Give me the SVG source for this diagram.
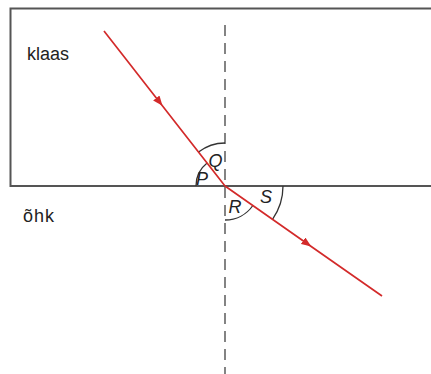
<svg xmlns="http://www.w3.org/2000/svg" width="431" height="374" viewBox="0 0 431 374">
<defs>
<style>
.frame{fill:none;stroke:#555;stroke-width:2}
.normal{fill:none;stroke:#333;stroke-width:1.2;stroke-dasharray:11 7}
.arc{fill:none;stroke:#333;stroke-width:1.3}
.ray{fill:none;stroke:#d32a2a;stroke-width:1.7}
.lbl{font-family:"Liberation Sans",Arial,sans-serif;font-size:18px;fill:#222}
.ang{font-family:"Liberation Sans",Arial,sans-serif;font-size:18px;font-style:italic;fill:#222}
</style>
<marker id="ah" viewBox="0 0 10 8" refX="6" refY="4" markerWidth="10" markerHeight="8" markerUnits="userSpaceOnUse" orient="auto">
<path d="M0,0 L10,4 L0,8 Z" fill="#d32a2a"/>
</marker>
</defs>
<rect width="431" height="374" fill="#fff"/>
<g id="glass">
<path class="frame" d="M432,8.5 H10.5 V186 H432"/>
<text class="lbl" x="27" y="59.5">klaas</text>
</g>
<g id="air">
<text class="lbl" x="23" y="222" letter-spacing="1">õhk</text>
</g>
<g id="normal">
<line class="normal" x1="225" y1="25" x2="225" y2="374"/>
</g>
<g id="angles">
<path class="arc" d="M225,143 A43,43 0 0 0 198.5,152.1"/>
<path class="arc" d="M196,186 A29,29 0 0 1 207.1,163.1"/>
<path class="arc" d="M225,220 A34,34 0 0 0 252.9,205.5"/>
<path class="arc" d="M283,186 A58,58 0 0 1 272.5,219.3"/>
<text class="ang" x="208.5" y="167">Q</text>
<text class="ang" x="196" y="185">P</text>
<text class="ang" x="228.5" y="212.5">R</text>
<text class="ang" x="260" y="202.5">S</text>
</g>
<g id="connectors">
<path class="ray" d="M104,31 L160,102.7 L225,186" marker-mid="url(#ah)"/>
<path class="ray" d="M225,186 L308,244.2 L382,296" marker-mid="url(#ah)"/>
</g>
</svg>
